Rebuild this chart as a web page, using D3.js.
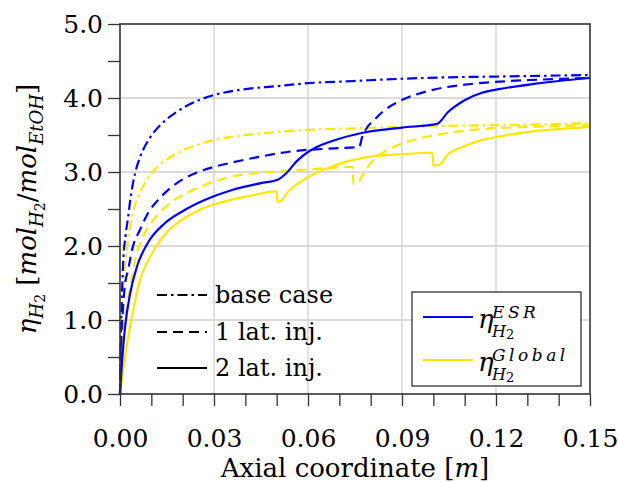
<!DOCTYPE html>
<html><head><meta charset="utf-8">
<script src="https://cdn.jsdelivr.net/npm/d3@7"></script>
<style>
body{margin:0;background:#fff;}
svg{font-family:"DejaVu Serif",serif;}
</style></head>
<body><svg id="c" width="618" height="482"></svg>
<script>
// ---- data ----
const baseESR_x = [0,0.0003,0.0006,0.001,0.0018,0.0026,0.0032,0.0048,0.0064,0.0085,0.0105,0.014,0.018,0.024,0.03,0.04,0.05,0.06,0.075,0.09,0.105,0.12,0.135,0.15];
const baseESR_y = [0,0.85,1.31,1.77,2.15,2.39,2.6,2.98,3.2,3.39,3.52,3.68,3.81,3.95,4.04,4.12,4.16,4.2,4.23,4.26,4.28,4.29,4.3,4.31];

const baseGlob_x = [0,0.0003,0.0006,0.001,0.0016,0.0026,0.0041,0.0064,0.0102,0.015,0.02,0.025,0.03,0.04,0.05,0.06,0.075,0.09,0.1,0.115,0.13,0.15];
const baseGlob_y = [0,0.7,1.18,1.45,1.72,2.1,2.45,2.72,2.99,3.17,3.29,3.37,3.43,3.5,3.54,3.57,3.59,3.61,3.62,3.63,3.64,3.66];

const lat1ESR_x = [0,0.0003,0.001,0.0015,0.0026,0.0041,0.0064,0.009,0.0121,0.016,0.02,0.025,0.03,0.036,0.045,0.055,0.0686,0.0764,0.0772,0.082,0.0846,0.0894,0.0999,0.11,0.121,0.135,0.15];
const lat1ESR_y = [0,0.6,1.18,1.45,1.68,1.99,2.22,2.45,2.62,2.78,2.9,3.0,3.07,3.13,3.21,3.28,3.32,3.34,3.46,3.74,3.84,3.96,4.11,4.18,4.22,4.25,4.27];

const lat1Glob_x = [0,0.0003,0.0008,0.0022,0.0035,0.0048,0.0073,0.0112,0.0166,0.023,0.03,0.036,0.045,0.055,0.065,0.0742,0.0745,0.0755,0.0776,0.08,0.0824,0.0855,0.0903,0.0964,0.105,0.1155,0.13,0.15];
const lat1Glob_y = [0,0.4,0.8,1.18,1.5,1.81,2.12,2.38,2.6,2.75,2.87,2.94,2.99,3.02,3.05,3.07,2.84,2.84,2.97,3.12,3.22,3.3,3.39,3.46,3.53,3.58,3.61,3.63];

const lat2ESR_x = [0,0.0005,0.0016,0.0032,0.0054,0.009,0.0144,0.02,0.027,0.036,0.045,0.0505,0.053,0.0565,0.06,0.064,0.07,0.0788,0.09,0.1012,0.1047,0.11,0.1155,0.121,0.132,0.14,0.15];
const lat2ESR_y = [0,0.35,0.9,1.35,1.72,2.05,2.31,2.47,2.62,2.76,2.85,2.9,2.98,3.15,3.27,3.36,3.45,3.54,3.6,3.65,3.81,3.97,4.07,4.12,4.19,4.23,4.27];

const lat2Glob_x = [0,0.0016,0.0038,0.0064,0.0102,0.0153,0.02,0.0245,0.03,0.036,0.043,0.0499,0.0502,0.051,0.0536,0.06,0.0686,0.0788,0.09,0.0997,0.1,0.1015,0.1047,0.11,0.1155,0.121,0.13,0.14,0.15];
const lat2Glob_y = [0,0.5,1.04,1.54,1.9,2.2,2.36,2.47,2.56,2.63,2.69,2.74,2.6,2.6,2.73,2.93,3.09,3.2,3.24,3.26,3.09,3.09,3.24,3.35,3.43,3.48,3.54,3.58,3.61];

const xTicks = [0,0.01,0.02,0.03,0.04,0.05,0.06,0.07,0.08,0.09,0.10,0.11,0.12,0.13,0.14,0.15];
const xTickLabels = [0,0.03,0.06,0.09,0.12,0.15];
const yTicks = [0,0.5,1,1.5,2,2.5,3,3.5,4,4.5,5];
const yTickLabels = [0,1,2,3,4,5];
const styleNames = ["base case","1 lat. inj.","2 lat. inj."];
const seriesNames = ["ESR","Global"];

// ---- drawing ----
const BLUE = "#0000ff", YEL = "#ffe800";
const DASHDOT = "10,4,2.5,4", DASH = "10,6";
const svg = d3.select("#c");
const L=120, T=24, W=470, H=370;
const x = d3.scaleLinear().domain([0,0.15]).range([L,L+W]);
const y = d3.scaleLinear().domain([0,5]).range([T+H,T]);

// grid
const g = svg.append("g");
g.selectAll(".gx").data(xTickLabels.slice(1,-1)).enter().append("line")
  .attr("x1",d=>x(d)).attr("x2",d=>x(d)).attr("y1",y(0)).attr("y2",y(5))
  .attr("stroke","#cfcfcf").attr("stroke-width",1.3);
g.selectAll(".gy").data(yTickLabels.slice(1,-1)).enter().append("line")
  .attr("y1",d=>y(d)).attr("y2",d=>y(d)).attr("x1",x(0)).attr("x2",x(0.15))
  .attr("stroke","#cfcfcf").attr("stroke-width",1.3);

// curves
const line = d3.line().x(d=>x(d[0])).y(d=>y(d[1])).curve(d3.curveMonotoneX);
function curve(xs,ys,color,dash){
  const pts = xs.map((v,i)=>[v,ys[i]]);
  svg.append("path").attr("d",line(pts)).attr("fill","none")
    .attr("stroke",color).attr("stroke-width",2.2)
    .attr("stroke-dasharray",dash||null).attr("stroke-linejoin","round");
}
curve(baseGlob_x,baseGlob_y,YEL,DASHDOT);
curve(lat1Glob_x,lat1Glob_y,YEL,DASH);
curve(lat2Glob_x,lat2Glob_y,YEL,null);
curve(baseESR_x,baseESR_y,BLUE,DASHDOT);
curve(lat1ESR_x,lat1ESR_y,BLUE,DASH);
curve(lat2ESR_x,lat2ESR_y,BLUE,null);

// axes
const fs = 25;
const ax = svg.append("g").attr("transform",`translate(0,${y(0)})`)
  .call(d3.axisBottom(x).tickValues(xTicks).tickSize(12).tickPadding(23)
    .tickFormat(d=> xTickLabels.some(v=>Math.abs(v-d)<1e-9) ? d3.format(".2f")(d) : ""));
const ay = svg.append("g").attr("transform",`translate(${x(0)},0)`)
  .call(d3.axisLeft(y).tickValues(yTicks).tickSize(12).tickPadding(5)
    .tickFormat(d=> Number.isInteger(d) ? d3.format(".1f")(d) : ""));
[ax,ay].forEach(a=>{
  a.select(".domain").remove();
  a.selectAll(".tick line").attr("stroke","#333").attr("stroke-width",1.3);
  a.selectAll("text").attr("font-family","DejaVu Serif").attr("font-size",fs).attr("fill","#000");
});
// frame
svg.append("rect").attr("x",x(0)).attr("y",y(5)).attr("width",x(0.15)-x(0)).attr("height",y(0)-y(5))
  .attr("fill","none").attr("stroke","#333").attr("stroke-width",1.6);

// axis titles
svg.append("text").attr("x",(x(0)+x(0.15))/2).attr("y",477).attr("text-anchor","middle")
  .attr("font-size",26)
  .html('Axial coordinate [<tspan font-style="italic">m</tspan>]');

const yl = svg.append("text").attr("transform",`translate(36,${(y(0)+y(5))/2}) rotate(-90)`)
  .attr("text-anchor","middle").attr("font-size",26).attr("font-style","italic");
yl.append("tspan").text("η");
yl.append("tspan").attr("font-size",18).attr("dy",7).text("H");
yl.append("tspan").attr("font-size",14).attr("font-style","normal").attr("dy",2).text("2");
yl.append("tspan").attr("dy",-9).attr("font-style","normal").text(" [");
yl.append("tspan").text("mol");
yl.append("tspan").attr("font-size",18).attr("dy",7).text("H");
yl.append("tspan").attr("font-size",14).attr("font-style","normal").attr("dy",2).text("2");
yl.append("tspan").attr("dy",-9).attr("font-style","normal").text("/");
yl.append("tspan").text("mol");
yl.append("tspan").attr("font-size",18).attr("dy",7).text("EtOH");
yl.append("tspan").attr("dy",-7).attr("font-style","normal").text("]");

// legend 1: line styles
const dashes = [DASHDOT, DASH, null];
const l1y = [295,332,368];
styleNames.forEach((n,i)=>{
  svg.append("line").attr("x1",157).attr("x2",207).attr("y1",l1y[i]).attr("y2",l1y[i])
    .attr("stroke","#000").attr("stroke-width",2.2).attr("stroke-dasharray",dashes[i]);
  svg.append("text").attr("x",215).attr("y",l1y[i]+8).attr("font-size",24).text(n);
});

// legend 2: colours
svg.append("rect").attr("x",412).attr("y",292).attr("width",169).attr("height",94)
  .attr("fill","#fff").attr("stroke","#333").attr("stroke-width",1.3);
const seriesColors = [BLUE,YEL];
const l2y = [317,360];
seriesNames.forEach((n,i)=>{
  const yy = l2y[i];
  svg.append("line").attr("x1",423).attr("x2",473).attr("y1",yy).attr("y2",yy)
    .attr("stroke",seriesColors[i]).attr("stroke-width",2.2);
  svg.append("text").attr("x",478).attr("y",yy+11).attr("font-size",26).attr("font-style","italic").text("η");
  svg.append("text").attr("x",492).attr("y",yy+1).attr("font-size",17).attr("font-style","italic")
    .attr("letter-spacing",3.5).text(n);
  const sub = svg.append("text").attr("x",492).attr("y",yy+20).attr("font-size",16).attr("font-style","italic");
  sub.append("tspan").text("H");
  sub.append("tspan").attr("font-style","normal").attr("font-size",13).attr("dy",2).text("2");
});
</script></body></html>
